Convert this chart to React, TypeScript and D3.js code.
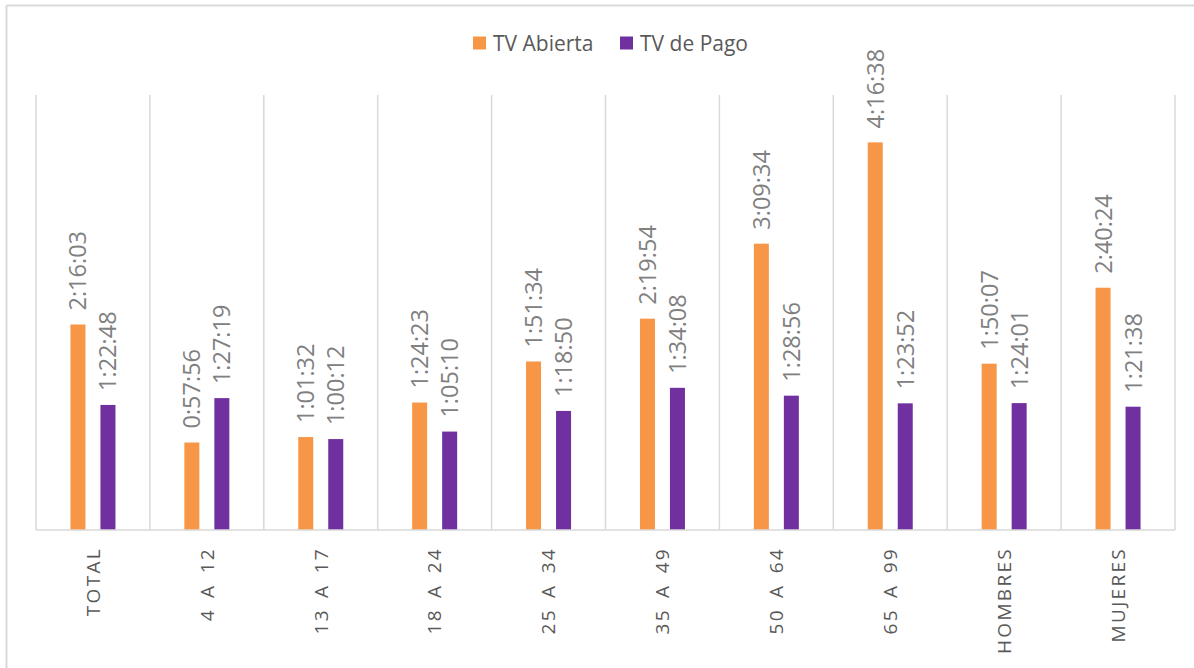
import React from 'react';
import * as d3 from 'd3';

const categories = ['TOTAL', '4 A 12', '13 A 17', '18 A 24', '25 A 34', '35 A 49', '50 A 64', '65 A 99', 'HOMBRES', 'MUJERES'];
const seriesNames = ['TV Abierta', 'TV de Pago'];
const tvAbierta = ['2:16:03', '0:57:56', '1:01:32', '1:24:23', '1:51:34', '2:19:54', '3:09:34', '4:16:38', '1:50:07', '2:40:24'];
const tvPago = ['1:22:48', '1:27:19', '1:00:12', '1:05:10', '1:18:50', '1:34:08', '1:28:56', '1:23:52', '1:24:01', '1:21:38'];
const colors = ['#F79646', '#7030A0'];
// Excel time axis, max 0.2 day
const yMax = 17280;

const toSeconds = (s: string) => {
  const [h, m, sec] = s.split(':').map(Number);
  return h * 3600 + m * 60 + sec;
};

const width = 1194;
const height = 668;
const marginLeft = 36;
const marginRight = 19;
const plotTop = 95;
const plotBottom = 530;
const font = "'Open Sans', sans-serif";
const textColor = '#595959';
const labelColor = '#808080';
const gridColor = '#D9D9D9';

export default function App() {
  const series = [tvAbierta, tvPago];

  const x0 = d3.scaleBand<string>().domain(categories).range([marginLeft, width - marginRight]).padding(0);
  const bw = x0.bandwidth();
  const x1 = d3
    .scaleBand<string>()
    .domain(seriesNames)
    .range([0, bw])
    .paddingInner(0.5)
    .paddingOuter((bw / 30 - 1.5) / 2);
  const y = d3.scaleLinear().domain([0, yMax]).range([plotBottom, plotTop]);

  const boundaries = d3.range(categories.length + 1).map((i) => marginLeft + i * bw);

  const legendX = [473, 620];

  return (
    <svg width={width} height={height} style={{ position: 'absolute', left: 0, top: 0, background: '#fff' }}>
      <rect x={0} y={0} width={width} height={height} fill="#fff" />
      {/* outer chart border */}
      <line x1={6.5} x2={width} y1={5.5} y2={5.5} stroke={gridColor} strokeWidth={2} />
      <line x1={6.5} x2={6.5} y1={5.5} y2={height} stroke={gridColor} strokeWidth={2} />

      {/* legend */}
      {seriesNames.map((name, i) => (
        <g key={name} transform={`translate(${legendX[i]},0)`}>
          <rect x={0} y={36.5} width={13} height={13} fill={colors[i]} />
          <text x={20} y={50.5} fontFamily={font} fontSize={21} fill={textColor}>
            {name}
          </text>
        </g>
      ))}

      {/* vertical grid lines */}
      {boundaries.map((bx, i) => (
        <line key={i} x1={bx} x2={bx} y1={plotTop} y2={plotBottom} stroke={gridColor} strokeWidth={1.5} />
      ))}

      {/* bars and labels */}
      {categories.map((c, ci) => (
        <g key={c} transform={`translate(${x0(c)},0)`}>
          {series.map((vals, si) => {
            const v = toSeconds(vals[ci]);
            const bx = x1(seriesNames[si]) as number;
            const cx = bx + x1.bandwidth() / 2;
            return (
              <g key={si}>
                <rect x={bx} y={y(v)} width={x1.bandwidth()} height={plotBottom - y(v)} fill={colors[si]} />
                <text
                  transform={`translate(${cx},${y(v) - 14}) rotate(-90)`}
                  dy="0.36em"
                  fontFamily={font}
                  fontSize={23.5}
                  fill={labelColor}
                >
                  {vals[ci]}
                </text>
              </g>
            );
          })}
          <text
            transform={`translate(${bw / 2},547) rotate(-90)`}
            dy="0.36em"
            textAnchor="end"
            fontFamily={font}
            fontSize={19}
            letterSpacing={2.3}
            wordSpacing={3}
            fill={textColor}
          >
            {c}
          </text>
        </g>
      ))}

      {/* category axis */}
      <line x1={marginLeft} x2={width - marginRight} y1={plotBottom} y2={plotBottom} stroke={gridColor} strokeWidth={1.5} />
    </svg>
  );
}
